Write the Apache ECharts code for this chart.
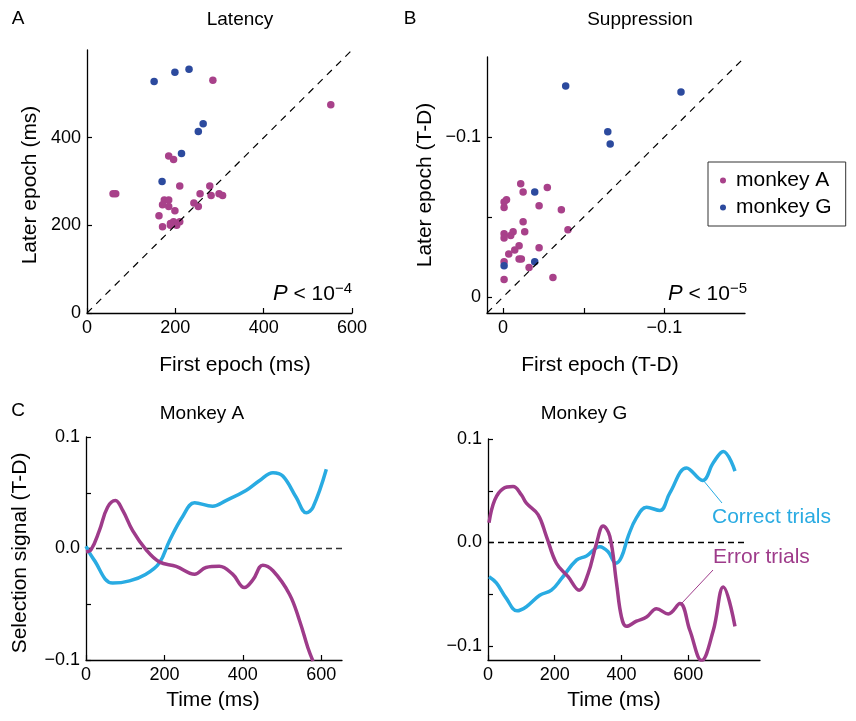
<!DOCTYPE html>
<html><head><meta charset="utf-8">
<script src="https://cdn.jsdelivr.net/npm/echarts@6/dist/echarts.min.js"></script>
<style>html,body{margin:0;padding:0;background:#fff}#c{width:856px;height:721px}</style>
</head><body><div id="c"></div>
<script>
// ---- Panel A: latency (ms) [first epoch, later epoch]
const latencyMonkeyA = [[285,531],[552,475],[185,358],[196,350],[210,290],[59,272],[65,272],[278,290],[256,272],[281,268],[299,272],[307,268],[242,251],[252,243],[175,258],[185,258],[171,247],[185,243],[199,233],[163,222],[171,197],[189,204],[196,208],[189,200],[203,200],[210,208]];
const latencyMonkeyG = [[152,528],[199,549],[231,556],[263,432],[252,414],[214,364],[170,300]];
// ---- Panel B: suppression (T-D) [first epoch, later epoch]
const suppMonkeyA = [[-0.0109,-0.0708],[-0.0124,-0.0657],[-0.0274,-0.0684],[-0.0021,-0.0608],[-0.0006,-0.0594],[-0.0006,-0.0559],[-0.0223,-0.0571],[-0.0361,-0.0545],[-0.0124,-0.0471],[-0.0134,-0.0408],[-0.0062,-0.0408],[-0.0006,-0.0396],[-0.0047,-0.0384],[-0.0006,-0.0369],[-0.0402,-0.0420],[-0.0099,-0.0320],[-0.0072,-0.0294],[-0.0035,-0.0269],[-0.0223,-0.0308],[-0.0099,-0.0237],[-0.0113,-0.0237],[-0.0006,-0.0220],[-0.0161,-0.0184],[-0.0309,-0.0122],[-0.0006,-0.0110]];
const suppMonkeyG = [[-0.0388,-0.1318],[-0.1103,-0.1282],[-0.0649,-0.1033],[-0.0664,-0.0957],[-0.0196,-0.0657],[-0.0196,-0.0220],[-0.0006,-0.0196]];
// ---- Panel C: Monkey A selection signal
const timeCorrectA = [0,20,68,111,153,187,213,247,277,323,357,408,443,477,502,536,562,579,613];
const correctA = [0.002,-0.010,-0.031,-0.029,-0.023,-0.013,0.007,0.029,0.041,0.038,0.043,0.052,0.061,0.068,0.065,0.046,0.032,0.037,0.071];
const timeErrorA = [0,13,34,55,75,94,119,153,187,230,277,306,340,374,404,426,451,477,519,545,566,579];
const errorA = [-0.003,-0.001,0.016,0.037,0.043,0.034,0.016,-0.001,-0.012,-0.016,-0.023,-0.017,-0.016,-0.023,-0.035,-0.028,-0.015,-0.020,-0.041,-0.065,-0.089,-0.101];
// ---- Panel D: Monkey G selection signal
const timeCorrectG = [3,25,55,87,115,155,190,220,265,295,335,360,383,400,420,445,475,515,545,595,643,675,705,740];
const correctG = [-0.033,-0.039,-0.054,-0.066,-0.062,-0.051,-0.046,-0.035,-0.017,-0.013,-0.004,-0.009,-0.020,-0.014,0.006,0.024,0.034,0.031,0.048,0.072,0.060,0.077,0.088,0.069];
const timeErrorG = [3,20,45,75,100,115,150,175,205,240,273,300,325,345,365,385,400,415,445,475,505,540,575,605,640,675,705,740];
const errorG = [0.019,0.041,0.052,0.054,0.046,0.038,0.027,0.006,-0.020,-0.033,-0.046,-0.030,-0.001,0.016,0.006,-0.039,-0.072,-0.081,-0.076,-0.072,-0.064,-0.069,-0.059,-0.085,-0.114,-0.085,-0.043,-0.081];

const FONT = 'Liberation Sans, Arial, Helvetica, sans-serif';
const MAG = '#A8418A', BLUE = '#2C4A9E', CYAN = '#29ABE2', MAGL = '#9E3B8A';
const zip = (t, v) => t.map((x, i) => [x, v[i]]);
const neg = v => (v < 0 ? '\u2212' : '') + Math.abs(v);
const neg1 = v => (v < 0 ? '\u2212' : '') + Math.abs(v).toFixed(1);

const baseLbl = { color: '#000', fontSize: 18, fontFamily: FONT, margin: 6 };
const baseTick = { show: true, inside: true, length: 5, lineStyle: { color: '#000', width: 1.2 } };
function axis(o, ticks, labels, fmt) {
  const lbl = Object.assign({}, baseLbl, { customValues: labels });
  if (fmt) lbl.formatter = fmt;
  return Object.assign({
    type: 'value', splitLine: { show: false },
    axisLine: { show: true, onZero: false, lineStyle: { color: '#000', width: 1.3 } },
    axisTick: Object.assign({}, baseTick, { customValues: ticks }),
    axisLabel: lbl
  }, o);
}
function txt(x, y, s, size, opts) {
  return Object.assign({ type: 'text', x: x, y: y,
    style: { x: 0, y: 0, text: s, font: size + 'px ' + FONT, fill: '#000', textAlign: 'center', textVerticalAlign: 'middle' } }, opts || {});
}
const scatterStyle = c => ({ color: c, opacity: 1 });
const pRich = { i: { fontStyle: 'italic', fontSize: 22, fontFamily: FONT, lineHeight: 26 }, s: { fontSize: 15, fontFamily: FONT, verticalAlign: 'top', lineHeight: 26 } };

const option = {
  animation: false,
  grid: [
    { left: 87, top: 50, width: 265, height: 263 },
    { left: 487, top: 57, width: 258, height: 256 },
    { left: 86, top: 437, width: 256, height: 223 },
    { left: 488, top: 439, width: 272, height: 221 }
  ],
  xAxis: [
    axis({ gridIndex: 0, min: 0, max: 600 }, [0, 200, 400, 600], [0, 200, 400, 600]),
    axis({ gridIndex: 1, min: -0.15, max: 0.01, inverse: true }, [0, -0.05, -0.1], [0, -0.1], neg),
    axis({ gridIndex: 2, min: 0, max: 653 }, [0, 200, 400, 600], [0, 200, 400, 600]),
    axis({ gridIndex: 3, min: 0, max: 815 }, [0, 200, 400, 600], [0, 200, 400, 600])
  ],
  yAxis: [
    axis({ gridIndex: 0, min: 0, max: 600 }, [0, 200, 400], [0, 200, 400]),
    axis({ gridIndex: 1, min: -0.15, max: 0.01, inverse: true }, [0, -0.05, -0.1], [0, -0.1], neg),
    axis({ gridIndex: 2, min: -0.1, max: 0.1 }, [-0.1, -0.05, 0, 0.05, 0.1], [-0.1, 0, 0.1], neg1),
    axis({ gridIndex: 3, min: -0.1135, max: 0.1 }, [-0.1, -0.05, 0, 0.05, 0.1], [-0.1, 0, 0.1], neg1)
  ],
  legend: {
    left: 708, top: 162, orient: 'vertical', data: ['monkey A', 'monkey G'],
    icon: 'circle', itemWidth: 6, itemHeight: 6, itemGap: 6,
    padding: [8, 14, 8, 12], borderColor: '#333', borderWidth: 1,
    textStyle: { color: '#000', fontSize: 21, fontFamily: FONT, padding: [0, 0, 0, 5] }
  },
  series: [
    { type: 'line', xAxisIndex: 0, yAxisIndex: 0, data: [[0, 0], [600, 600]], symbol: 'none', silent: true,
      lineStyle: { color: '#000', width: 1.2, type: [7, 6] } },
    { type: 'scatter', name: 'monkey A', xAxisIndex: 0, yAxisIndex: 0, data: latencyMonkeyA, symbolSize: 7.5, itemStyle: scatterStyle(MAG) },
    { type: 'scatter', name: 'monkey G', xAxisIndex: 0, yAxisIndex: 0, data: latencyMonkeyG, symbolSize: 7.5, itemStyle: scatterStyle(BLUE) },
    { type: 'line', xAxisIndex: 1, yAxisIndex: 1, data: [[0.01, 0.01], [-0.15, -0.15]], symbol: 'none', silent: true,
      lineStyle: { color: '#000', width: 1.2, type: [7, 6] } },
    { type: 'scatter', name: 'monkey A', xAxisIndex: 1, yAxisIndex: 1, data: suppMonkeyA, symbolSize: 7.5, itemStyle: scatterStyle(MAG) },
    { type: 'scatter', name: 'monkey G', xAxisIndex: 1, yAxisIndex: 1, data: suppMonkeyG, symbolSize: 7.5, itemStyle: scatterStyle(BLUE) },
    { type: 'line', xAxisIndex: 2, yAxisIndex: 2, data: [[0, 0], [653, 0]], symbol: 'none', silent: true,
      lineStyle: { color: '#333', width: 1.3, type: [6, 4] } },
    { type: 'line', xAxisIndex: 2, yAxisIndex: 2, data: zip(timeCorrectA, correctA), symbol: 'none', smooth: 0.4,
      lineStyle: { color: CYAN, width: 3.5 } },
    { type: 'line', xAxisIndex: 2, yAxisIndex: 2, data: zip(timeErrorA, errorA), symbol: 'none', smooth: 0.4,
      lineStyle: { color: MAGL, width: 3.5 } },
    { type: 'line', xAxisIndex: 3, yAxisIndex: 3, data: [[0, 0], [770, 0]], symbol: 'none', silent: true,
      lineStyle: { color: '#000', width: 1.3, type: [6, 4] } },
    { type: 'line', xAxisIndex: 3, yAxisIndex: 3, data: zip(timeCorrectG, correctG), symbol: 'none', smooth: 0.4,
      lineStyle: { color: CYAN, width: 3.5 } },
    { type: 'line', xAxisIndex: 3, yAxisIndex: 3, data: zip(timeErrorG, errorG), symbol: 'none', smooth: 0.4,
      lineStyle: { color: MAGL, width: 3.5 } }
  ],
  graphic: [
    txt(18, 19, 'A', 19), txt(410, 19, 'B', 19), txt(18, 411, 'C', 19),
    txt(240, 20, 'Latency', 19), txt(640, 20, 'Suppression', 19),
    txt(202, 414, 'Monkey A', 19), txt(584, 414, 'Monkey G', 19),
    txt(30, 185, 'Later epoch (ms)', 21, { rotation: Math.PI / 2 }),
    txt(235, 365, 'First epoch (ms)', 21),
    txt(425, 185, 'Later epoch (T-D)', 21, { rotation: Math.PI / 2 }),
    txt(600, 365, 'First epoch (T-D)', 21),
    txt(20, 553, 'Selection signal (T-D)', 21, { rotation: Math.PI / 2 }),
    txt(213, 700, 'Time (ms)', 21),
    txt(614, 700, 'Time (ms)', 21),
    { type: 'text', style: { x: 352, y: 294, text: '{i|P} < 10{s|\u22124}', textAlign: 'right', textVerticalAlign: 'middle',
      rich: pRich, font: '21px ' + FONT, fill: '#000' } },
    { type: 'text', style: { x: 747, y: 294, text: '{i|P} < 10{s|\u22125}', textAlign: 'right', textVerticalAlign: 'middle',
      rich: pRich, font: '21px ' + FONT, fill: '#000' } },
    { type: 'line', shape: { x1: 703, y1: 480, x2: 722, y2: 503 }, style: { stroke: CYAN, lineWidth: 1 } },
    { type: 'line', shape: { x1: 682, y1: 603, x2: 713, y2: 570 }, style: { stroke: MAGL, lineWidth: 1 } },
    { type: 'text', style: { x: 712, y: 517, text: 'Correct trials', font: '21px ' + FONT, fill: CYAN, textVerticalAlign: 'middle' } },
    { type: 'text', style: { x: 713, y: 557, text: 'Error trials', font: '21px ' + FONT, fill: MAGL, textVerticalAlign: 'middle' } }
  ]
};
const chart = echarts.init(document.getElementById('c'), null, { renderer: 'canvas' });
chart.setOption(option);
</script></body></html>
